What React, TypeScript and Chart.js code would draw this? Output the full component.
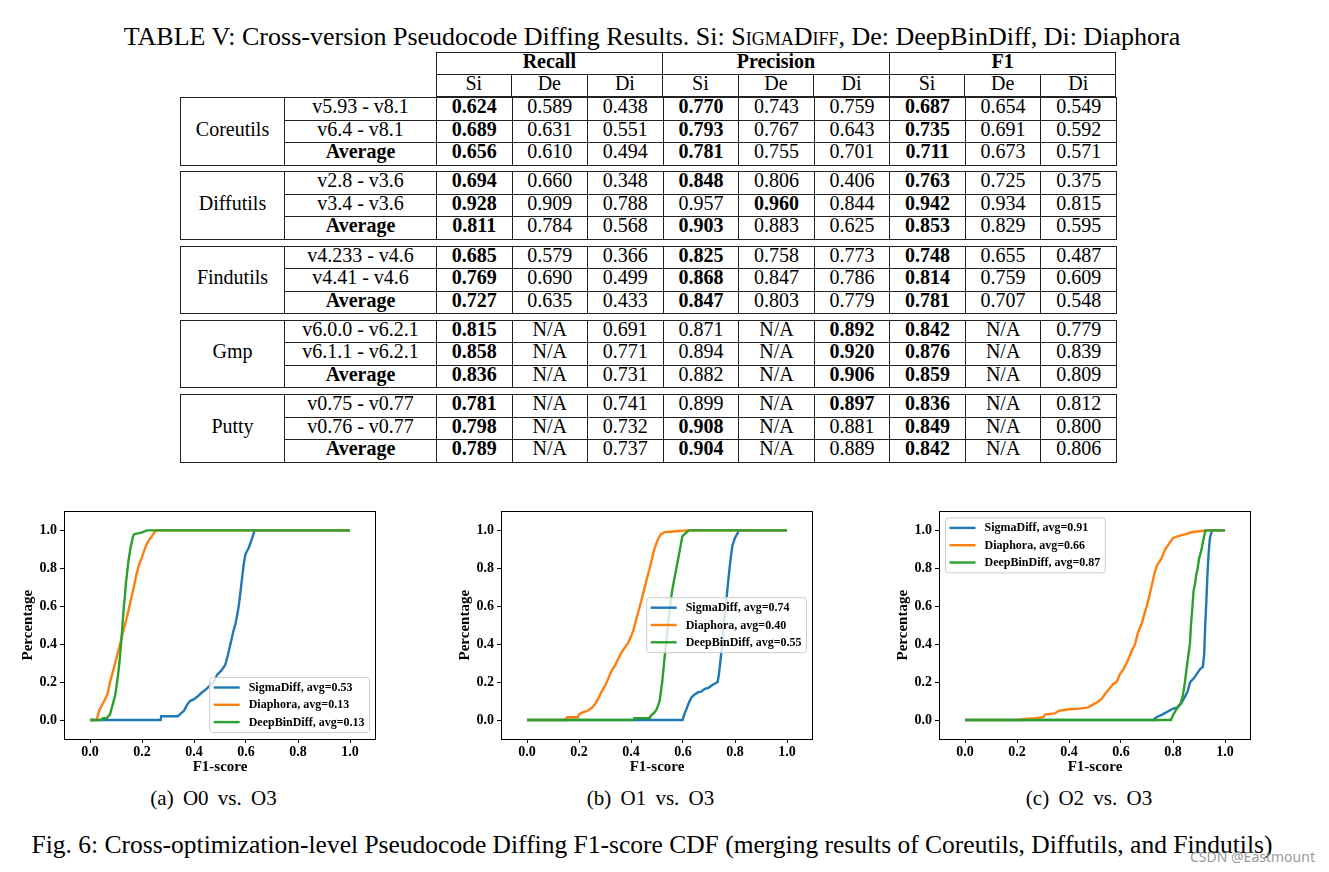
import React, { useEffect, useRef } from 'react';
import { Chart, registerables } from 'chart.js';

Chart.register(...registerables);

const SERIF = '"Liberation Serif", "Times New Roman", serif';

// ---------------- Table data ----------------
const METRICS = ['Recall', 'Precision', 'F1'];
const TOOLS = ['Si', 'De', 'Di'];
const PROJECTS = ['Coreutils', 'Diffutils', 'Findutils', 'Gmp', 'Putty'];
const VERSIONS = [
  ['v5.93 - v8.1', 'v6.4 - v8.1', 'Average'],
  ['v2.8 - v3.6', 'v3.4 - v3.6', 'Average'],
  ['v4.233 - v4.6', 'v4.41 - v4.6', 'Average'],
  ['v6.0.0 - v6.2.1', 'v6.1.1 - v6.2.1', 'Average'],
  ['v0.75 - v0.77', 'v0.76 - v0.77', 'Average'],
];
// a trailing '*' marks a value printed in bold
const COREUTILS_VALUES = [
  ['0.624*', '0.589', '0.438', '0.770*', '0.743', '0.759', '0.687*', '0.654', '0.549'],
  ['0.689*', '0.631', '0.551', '0.793*', '0.767', '0.643', '0.735*', '0.691', '0.592'],
  ['0.656*', '0.610', '0.494', '0.781*', '0.755', '0.701', '0.711*', '0.673', '0.571'],
];
const DIFFUTILS_VALUES = [
  ['0.694*', '0.660', '0.348', '0.848*', '0.806', '0.406', '0.763*', '0.725', '0.375'],
  ['0.928*', '0.909', '0.788', '0.957', '0.960*', '0.844', '0.942*', '0.934', '0.815'],
  ['0.811*', '0.784', '0.568', '0.903*', '0.883', '0.625', '0.853*', '0.829', '0.595'],
];
const FINDUTILS_VALUES = [
  ['0.685*', '0.579', '0.366', '0.825*', '0.758', '0.773', '0.748*', '0.655', '0.487'],
  ['0.769*', '0.690', '0.499', '0.868*', '0.847', '0.786', '0.814*', '0.759', '0.609'],
  ['0.727*', '0.635', '0.433', '0.847*', '0.803', '0.779', '0.781*', '0.707', '0.548'],
];
const GMP_VALUES = [
  ['0.815*', 'N/A', '0.691', '0.871', 'N/A', '0.892*', '0.842*', 'N/A', '0.779'],
  ['0.858*', 'N/A', '0.771', '0.894', 'N/A', '0.920*', '0.876*', 'N/A', '0.839'],
  ['0.836*', 'N/A', '0.731', '0.882', 'N/A', '0.906*', '0.859*', 'N/A', '0.809'],
];
const PUTTY_VALUES = [
  ['0.781*', 'N/A', '0.741', '0.899', 'N/A', '0.897*', '0.836*', 'N/A', '0.812'],
  ['0.798*', 'N/A', '0.732', '0.908*', 'N/A', '0.881', '0.849*', 'N/A', '0.800'],
  ['0.789*', 'N/A', '0.737', '0.904*', 'N/A', '0.889', '0.842*', 'N/A', '0.806'],
];
const GROUP_VALUES = [COREUTILS_VALUES, DIFFUTILS_VALUES, FINDUTILS_VALUES, GMP_VALUES, PUTTY_VALUES];

// ---------------- Chart data ----------------
const SERIES_NAMES = ['SigmaDiff', 'Diaphora', 'DeepBinDiff'];
const SERIES_COLORS = ['#1f77b4', '#ff7f0e', '#2ca02c'];
const X_TICKS = [0, 0.2, 0.4, 0.6, 0.8, 1.0];
const Y_TICKS = [0, 0.2, 0.4, 0.6, 0.8, 1.0];

// (a) O0 vs. O3
const O0_AVGS = [0.53, 0.13, 0.13];
const O0_SIGMA = [[0, 0], [0.272, 0], [0.274, 0.02], [0.338, 0.02], [0.35, 0.035], [0.362, 0.05], [0.373, 0.08], [0.385, 0.1], [0.4, 0.11], [0.415, 0.125], [0.43, 0.145], [0.445, 0.16], [0.46, 0.18], [0.475, 0.2], [0.49, 0.24], [0.505, 0.26], [0.52, 0.29], [0.53, 0.34], [0.54, 0.4], [0.55, 0.46], [0.56, 0.51], [0.567, 0.56], [0.573, 0.61], [0.579, 0.68], [0.585, 0.75], [0.591, 0.82], [0.598, 0.875], [0.611, 0.91], [0.624, 0.96], [0.633, 1.0], [1.0, 1.0]];
const O0_DIAPHORA = [[0, 0], [0.026, 0], [0.035, 0.05], [0.045, 0.075], [0.058, 0.11], [0.068, 0.14], [0.077, 0.2], [0.087, 0.25], [0.097, 0.3], [0.108, 0.36], [0.12, 0.425], [0.13, 0.48], [0.14, 0.53], [0.15, 0.59], [0.16, 0.65], [0.17, 0.71], [0.179, 0.77], [0.189, 0.82], [0.2, 0.86], [0.21, 0.9], [0.219, 0.93], [0.228, 0.95], [0.238, 0.97], [0.248, 0.99], [0.255, 1.0], [1.0, 1.0]];
const O0_DEEPBINDIFF = [[0, 0], [0.045, 0], [0.05, 0.01], [0.065, 0.01], [0.077, 0.03], [0.087, 0.08], [0.097, 0.13], [0.103, 0.19], [0.109, 0.25], [0.115, 0.33], [0.12, 0.41], [0.125, 0.5], [0.129, 0.58], [0.134, 0.65], [0.138, 0.72], [0.143, 0.78], [0.148, 0.84], [0.155, 0.9], [0.161, 0.94], [0.166, 0.97], [0.171, 0.98], [0.19, 0.985], [0.2, 0.99], [0.219, 1.0], [1.0, 1.0]];

// (b) O1 vs. O3
const O1_AVGS = [0.74, 0.40, 0.55];
const O1_SIGMA = [[0, 0], [0.598, 0], [0.605, 0.03], [0.614, 0.06], [0.622, 0.09], [0.633, 0.12], [0.645, 0.135], [0.659, 0.147], [0.67, 0.15], [0.684, 0.165], [0.698, 0.17], [0.71, 0.182], [0.72, 0.19], [0.733, 0.2], [0.738, 0.24], [0.743, 0.3], [0.747, 0.35], [0.751, 0.4], [0.757, 0.5], [0.763, 0.58], [0.768, 0.65], [0.773, 0.72], [0.779, 0.8], [0.785, 0.87], [0.79, 0.92], [0.8, 0.96], [0.808, 0.98], [0.815, 1.0], [1.0, 1.0]];
const O1_DIAPHORA = [[0, 0], [0.145, 0], [0.155, 0.015], [0.196, 0.015], [0.2, 0.03], [0.215, 0.04], [0.235, 0.05], [0.25, 0.065], [0.26, 0.08], [0.273, 0.11], [0.286, 0.147], [0.3, 0.18], [0.312, 0.217], [0.325, 0.26], [0.338, 0.286], [0.35, 0.32], [0.363, 0.355], [0.375, 0.38], [0.389, 0.407], [0.4, 0.44], [0.41, 0.477], [0.42, 0.53], [0.43, 0.58], [0.44, 0.63], [0.45, 0.685], [0.46, 0.74], [0.47, 0.79], [0.479, 0.84], [0.488, 0.893], [0.497, 0.93], [0.506, 0.96], [0.515, 0.98], [0.53, 0.99], [0.582, 0.997], [0.62, 1.0], [1.0, 1.0]];
const O1_DEEPBINDIFF = [[0, 0], [0.41, 0], [0.413, 0.01], [0.47, 0.01], [0.473, 0.017], [0.479, 0.026], [0.49, 0.04], [0.498, 0.055], [0.505, 0.08], [0.51, 0.1], [0.515, 0.15], [0.52, 0.2], [0.525, 0.27], [0.53, 0.34], [0.535, 0.4], [0.54, 0.47], [0.546, 0.55], [0.552, 0.62], [0.558, 0.68], [0.566, 0.74], [0.573, 0.79], [0.58, 0.84], [0.587, 0.89], [0.592, 0.93], [0.598, 0.97], [0.61, 0.985], [0.623, 1.0], [1.0, 1.0]];

// (c) O2 vs. O3
const O2_AVGS = [0.91, 0.66, 0.87];
const O2_SIGMA = [[0, 0], [0.727, 0], [0.73, 0.01], [0.745, 0.02], [0.76, 0.03], [0.78, 0.045], [0.8, 0.06], [0.815, 0.065], [0.83, 0.085], [0.845, 0.12], [0.856, 0.15], [0.866, 0.2], [0.88, 0.22], [0.895, 0.25], [0.905, 0.27], [0.915, 0.28], [0.92, 0.35], [0.924, 0.5], [0.928, 0.62], [0.933, 0.78], [0.937, 0.88], [0.942, 0.96], [0.95, 1.0], [1.0, 1.0]];
const O2_DIAPHORA = [[0, 0], [0.21, 0], [0.22, 0.005], [0.27, 0.01], [0.3, 0.015], [0.31, 0.03], [0.345, 0.035], [0.36, 0.048], [0.38, 0.053], [0.41, 0.058], [0.44, 0.06], [0.47, 0.065], [0.49, 0.08], [0.51, 0.095], [0.525, 0.11], [0.54, 0.14], [0.555, 0.165], [0.57, 0.19], [0.583, 0.2], [0.595, 0.24], [0.61, 0.27], [0.625, 0.31], [0.64, 0.36], [0.654, 0.4], [0.665, 0.46], [0.68, 0.51], [0.69, 0.56], [0.699, 0.6], [0.71, 0.66], [0.72, 0.72], [0.73, 0.78], [0.74, 0.82], [0.755, 0.85], [0.77, 0.9], [0.785, 0.93], [0.8, 0.96], [0.82, 0.97], [0.85, 0.98], [0.87, 0.99], [0.9, 0.995], [0.93, 1.0], [1.0, 1.0]];
const O2_DEEPBINDIFF = [[0, 0], [0.792, 0], [0.8, 0.025], [0.81, 0.05], [0.82, 0.07], [0.83, 0.09], [0.838, 0.13], [0.846, 0.2], [0.852, 0.27], [0.858, 0.33], [0.865, 0.4], [0.869, 0.5], [0.875, 0.6], [0.879, 0.68], [0.885, 0.72], [0.89, 0.77], [0.895, 0.8], [0.9, 0.85], [0.91, 0.9], [0.915, 0.94], [0.92, 0.97], [0.925, 1.0], [1.0, 1.0]];

// ---------------- Chart helpers ----------------
const CANVAS_W = 367;
const CANVAS_H = 276;

const cdfPlugin = {
  id: 'cdfFrameLegend',
  afterDatasetsDraw(chart: any, _args: any, opts: any) {
    const { ctx, chartArea: a } = chart;
    ctx.save();
    // frame (all four spines)
    ctx.strokeStyle = '#000';
    ctx.lineWidth = 1;
    ctx.strokeRect(Math.round(a.left) + 0.5, Math.round(a.top) + 0.5, Math.round(a.right - a.left) - 1, Math.round(a.bottom - a.top));
    // legend
    const labels: string[] = opts.labels || [];
    ctx.font = `bold 12px ${SERIF}`;
    const tw = Math.max(...labels.map((t) => ctx.measureText(t).width));
    const w = 39 + tw + 5;
    const h = 55;
    const pad = 6.5;
    let x = a.right - pad - w;
    let y = a.bottom - pad - h;
    if (opts.loc === 'center right') {
      y = (a.top + a.bottom) / 2 - h / 2;
    } else if (opts.loc === 'upper left') {
      x = a.left + pad;
      y = a.top + pad;
    }
    ctx.beginPath();
    if ((ctx as any).roundRect) (ctx as any).roundRect(x, y, w, h, 3);
    else ctx.rect(x, y, w, h);
    ctx.fillStyle = 'rgba(255,255,255,0.8)';
    ctx.fill();
    ctx.strokeStyle = '#cccccc';
    ctx.lineWidth = 1;
    ctx.stroke();
    labels.forEach((t, i) => {
      const cy = y + 10 + i * 17.3;
      ctx.beginPath();
      ctx.moveTo(x + 4, cy);
      ctx.lineTo(x + 30, cy);
      ctx.strokeStyle = SERIES_COLORS[i];
      ctx.lineWidth = 2.4;
      ctx.stroke();
      ctx.fillStyle = '#000';
      ctx.textBaseline = 'middle';
      ctx.textAlign = 'left';
      ctx.fillText(t, x + 39, cy + 0.5);
    });
    ctx.restore();
  },
};

function axisCommon(ticksArr: number[]) {
  return {
    type: 'linear' as const,
    min: -0.1,
    max: 1.1,
    afterBuildTicks: (s: any) => {
      s.ticks = ticksArr.map((v) => ({ value: v }));
    },
    ticks: {
      autoSkip: false,
      maxRotation: 0,
      color: '#000',
      font: { family: SERIF, size: 14, weight: 'bold' as const },
      callback: (v: any) => Number(v).toFixed(1),
    },
    grid: { drawOnChartArea: false, drawTicks: true, tickLength: 4, color: '#000' },
    border: { display: false },
  };
}

function makeConfig(series: number[][][], avgs: number[], loc: string): any {
  return {
    type: 'line',
    data: {
      datasets: series.map((pts, i) => ({
        label: SERIES_NAMES[i],
        data: pts.map(([x, y]) => ({ x, y })),
        borderColor: SERIES_COLORS[i],
        backgroundColor: SERIES_COLORS[i],
        borderWidth: 2.4,
        pointRadius: 0,
        tension: 0,
        fill: false,
        order: 2 - i,
      })),
    },
    options: {
      animation: false,
      responsive: false,
      devicePixelRatio: 1,
      layout: { padding: { top: 7, right: 10, left: 0, bottom: 0 } },
      plugins: {
        legend: { display: false },
        tooltip: { enabled: false },
        cdfFrameLegend: {
          loc,
          labels: SERIES_NAMES.map((n, i) => `${n}, avg=${avgs[i].toFixed(2)}`),
        },
      },
      scales: {
        x: {
          ...axisCommon(X_TICKS),
          afterFit: (s: any) => {
            s.height = 37;
          },
          ticks: { ...axisCommon(X_TICKS).ticks, padding: 1 },
          title: { display: true, text: 'F1-score', color: '#000', padding: 0, font: { family: SERIF, size: 15, weight: 'bold' } },
        },
        y: {
          ...axisCommon(Y_TICKS),
          afterFit: (s: any) => {
            s.width = 45;
          },
          ticks: { ...axisCommon(Y_TICKS).ticks, padding: 3 },
          title: { display: true, text: 'Percentage', color: '#000', padding: 0, font: { family: SERIF, size: 15, weight: 'bold' } },
        },
      },
    },
    plugins: [cdfPlugin],
  };
}

function CdfChart(props: { series: number[][][]; avgs: number[]; loc: string; left: number; top: number }) {
  const ref = useRef<HTMLCanvasElement | null>(null);
  useEffect(() => {
    const chart = new Chart(ref.current as HTMLCanvasElement, makeConfig(props.series, props.avgs, props.loc));
    return () => chart.destroy();
  }, []);
  return (
    <canvas
      ref={ref}
      width={CANVAS_W}
      height={CANVAS_H}
      style={{ position: 'absolute', left: props.left, top: props.top, width: CANVAS_W, height: CANVAS_H }}
    />
  );
}

// ---------------- Table ----------------
const COL_WIDTHS = [104, 152, 75.56, 75.56, 75.56, 75.56, 75.56, 75.56, 75.56, 75.56, 75.56];
const LINE = '1px solid #222';

const cellBase: React.CSSProperties = {
  border: LINE,
  padding: 0,
  textAlign: 'center',
  verticalAlign: 'middle',
  fontSize: 20,
  lineHeight: '20px',
  whiteSpace: 'nowrap',
  color: '#000',
};

function Up(props: { children: React.ReactNode }) {
  return <span style={{ position: 'relative', top: -2.5 }}>{props.children}</span>;
}

function Cols() {
  return (
    <colgroup>
      {COL_WIDTHS.map((w, i) => (
        <col key={i} style={{ width: w }} />
      ))}
    </colgroup>
  );
}

const tableStyle: React.CSSProperties = {
  position: 'absolute',
  left: 180,
  width: 936,
  borderCollapse: 'collapse',
  tableLayout: 'fixed',
  fontFamily: SERIF,
};

function HeaderTable() {
  return (
    <table style={{ ...tableStyle, top: 52 }}>
      <Cols />
      <tbody>
        <tr style={{ height: 22 }}>
          <td colSpan={2} style={{ ...cellBase, border: 'none' }} />
          {METRICS.map((m) => (
            <td key={m} colSpan={3} style={{ ...cellBase, fontWeight: 'bold' }}>
              <Up>{m}</Up>
            </td>
          ))}
        </tr>
        <tr style={{ height: 22 }}>
          <td colSpan={2} style={{ ...cellBase, border: 'none' }} />
          {METRICS.map((m) =>
            TOOLS.map((t) => (
              <td key={m + t} style={cellBase}>
                <Up>{t}</Up>
              </td>
            ))
          )}
        </tr>
      </tbody>
    </table>
  );
}

const GROUP_TOPS = [97, 171, 245.5, 319.5, 394];

function GroupTable(props: { gi: number }) {
  const gi = props.gi;
  const rows = GROUP_VALUES[gi];
  return (
    <table style={{ ...tableStyle, top: GROUP_TOPS[gi], height: 68 }}>
      <Cols />
      <tbody>
        {rows.map((row, ri) => (
          <tr key={ri} style={{ height: 22.6 }}>
            {ri === 0 && (
              <td rowSpan={3} style={cellBase}>
                <Up>{PROJECTS[gi]}</Up>
              </td>
            )}
            <td style={{ ...cellBase, fontWeight: VERSIONS[gi][ri] === 'Average' ? 'bold' : 'normal' }}>
              <Up>{VERSIONS[gi][ri]}</Up>
            </td>
            {row.map((v, ci) => {
              const bold = v.endsWith('*');
              return (
                <td key={ci} style={{ ...cellBase, fontWeight: bold ? 'bold' : 'normal' }}>
                  <Up>{bold ? v.slice(0, -1) : v}</Up>
                </td>
              );
            })}
          </tr>
        ))}
      </tbody>
    </table>
  );
}

// ---------------- App ----------------
export default function App() {
  return (
    <div
      style={{
        position: 'absolute',
        left: 0,
        top: 0,
        width: 1329,
        height: 872,
        background: '#fff',
        overflow: 'hidden',
        fontFamily: SERIF,
        color: '#000',
      }}
    >
      <div
        style={{
          position: 'absolute',
          left: 0,
          top: 22,
          width: 1304,
          textAlign: 'center',
          fontSize: 26,
          lineHeight: '30px',
          whiteSpace: 'nowrap',
        }}
      >
        TABLE V: Cross-version Pseudocode Diffing Results. Si: <span style={{ fontVariant: 'small-caps' }}>SigmaDiff</span>, De: DeepBinDiff, Di: Diaphora
      </div>

      <HeaderTable />
      {PROJECTS.map((_, gi) => (
        <GroupTable key={gi} gi={gi} />
      ))}

      <CdfChart series={[O0_SIGMA, O0_DIAPHORA, O0_DEEPBINDIFF]} avgs={O0_AVGS} loc="lower right" left={19} top={500} />
      <CdfChart series={[O1_SIGMA, O1_DIAPHORA, O1_DEEPBINDIFF]} avgs={O1_AVGS} loc="center right" left={456} top={500} />
      <CdfChart series={[O2_SIGMA, O2_DIAPHORA, O2_DEEPBINDIFF]} avgs={O2_AVGS} loc="upper left" left={894} top={500} />

      {[
        ['(a) O0 vs. O3', 213.5],
        ['(b) O1 vs. O3', 650.5],
        ['(c) O2 vs. O3', 1089],
      ].map(([t, cx]) => (
        <div
          key={t as string}
          style={{
            position: 'absolute',
            left: (cx as number) - 150,
            width: 300,
            top: 785,
            textAlign: 'center',
            fontSize: 21,
            lineHeight: '26px',
            wordSpacing: 4,
            whiteSpace: 'nowrap',
          }}
        >
          {t}
        </div>
      ))}

      <div
        style={{
          position: 'absolute',
          left: 0,
          width: 1304,
          top: 830,
          textAlign: 'center',
          fontSize: 25.5,
          lineHeight: '30px',
          whiteSpace: 'nowrap',
        }}
      >
        Fig. 6: Cross-optimization-level Pseudocode Diffing F1-score CDF (merging results of Coreutils, Diffutils, and Findutils)
      </div>
      <div
        style={{
          position: 'absolute',
          left: 1190,
          top: 849,
          fontSize: 14,
          lineHeight: '16px',
          fontFamily: '"Noto Sans", "DejaVu Sans", sans-serif',
          color: 'rgba(140,140,140,0.9)',
          whiteSpace: 'nowrap',
        }}
      >
        CSDN @Eastmount
      </div>
    </div>
  );
}
